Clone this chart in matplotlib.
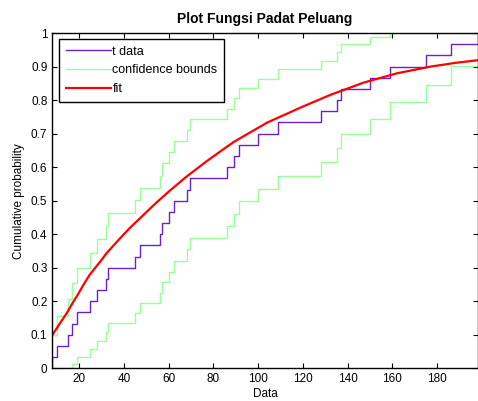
import matplotlib
matplotlib.use('Agg')
import matplotlib.pyplot as plt
import numpy as np

plt.rcParams['font.family'] = ['Liberation Sans', 'DejaVu Sans']

# sorted sample (step positions of the empirical CDF)
t_data = [8, 10, 15, 17, 19, 25, 28, 32, 33, 45, 47, 56, 57, 60, 62.5,
          68, 69.5, 86, 89, 91.5, 100, 109, 128, 135, 137, 150, 159, 175, 186, 198]
# confidence bounds read at each step (last step has none)
lower = [0, 0, 0, 0.012, 0.033, 0.057, 0.082, 0.108, 0.136, 0.165, 0.194, 0.225,
         0.256, 0.288, 0.321, 0.355, 0.389, 0.425, 0.461, 0.498, 0.536, 0.575,
         0.615, 0.657, 0.700, 0.745, 0.793, 0.844, 0.903]
upper = [0.098, 0.156, 0.207, 0.255, 0.300, 0.343, 0.385, 0.425, 0.464, 0.502,
         0.539, 0.575, 0.611, 0.645, 0.679, 0.712, 0.744, 0.775, 0.806, 0.835,
         0.864, 0.892, 0.918, 0.943, 0.967, 0.988, 1.0, 1.0, 1.0]
# fitted cdf, points
fit_x = [8, 11, 14.4, 17, 19.6, 22, 24.8, 29.4, 32.2, 36, 39.7, 43, 47.1, 53.8,
         60, 68, 77, 89, 104, 119, 132, 147, 162, 177, 188, 198]
fit_y = [0.099, 0.130, 0.164, 0.194, 0.222, 0.250, 0.280, 0.318, 0.343, 0.371,
         0.398, 0.421, 0.447, 0.490, 0.527, 0.572, 0.618, 0.675, 0.733, 0.778,
         0.815, 0.852, 0.880, 0.900, 0.911, 0.919]

xticks = [20, 40, 60, 80, 100, 120, 140, 160, 180]
yticks = [0, 0.1, 0.2, 0.3, 0.4, 0.5, 0.6, 0.7, 0.8, 0.9, 1]
yticklabels = ['0', '0.1', '0.2', '0.3', '0.4', '0.5', '0.6', '0.7', '0.8', '0.9', '1']

n = len(t_data)
t = np.array(t_data)
F = np.arange(1, n + 1) / n

fig = plt.figure(figsize=(4.78, 4.01), dpi=100)
ax = fig.add_axes([0.1094, 0.0815, 0.8896, 0.836])

ax.step(np.r_[t[0], t], np.r_[0, F], where='post', color='#6a22c8', lw=1.0, label='t data')
ax.step(t, np.r_[lower, lower[-1]], where='post', color='#99ff99', lw=1.0, label='confidence bounds')
ax.step(t, np.r_[upper, upper[-1]], where='post', color='#99ff99', lw=1.0)
ax.plot(fit_x, fit_y, color='red', lw=1.6, label='fit')

ax.set_xlim(t[0], t[-1])
ax.set_ylim(0, 1)
ax.set_xticks(xticks)
ax.set_yticks(yticks)
ax.set_yticklabels(yticklabels)
ax.tick_params(direction='in', top=True, right=True, length=3.5, width=0.8, labelsize=8.5)
for s in ax.spines.values():
    s.set_linewidth(1.0)

ax.set_title('Plot Fungsi Padat Peluang', fontsize=10, fontweight='bold', pad=7)
ax.set_xlabel('Data', fontsize=8.5, labelpad=2)
ax.set_ylabel('Cumulative probability', fontsize=8.5, labelpad=4)

leg = ax.legend(loc='upper left', bbox_to_anchor=(0.0165, 0.9815), borderaxespad=0,
                fancybox=False, edgecolor='black', framealpha=1, fontsize=9,
                handlelength=3.6, handletextpad=0.15, labelspacing=0.55, borderpad=0.5)
leg.get_frame().set_linewidth(1.0)

fig.savefig('out.png', dpi=100)
